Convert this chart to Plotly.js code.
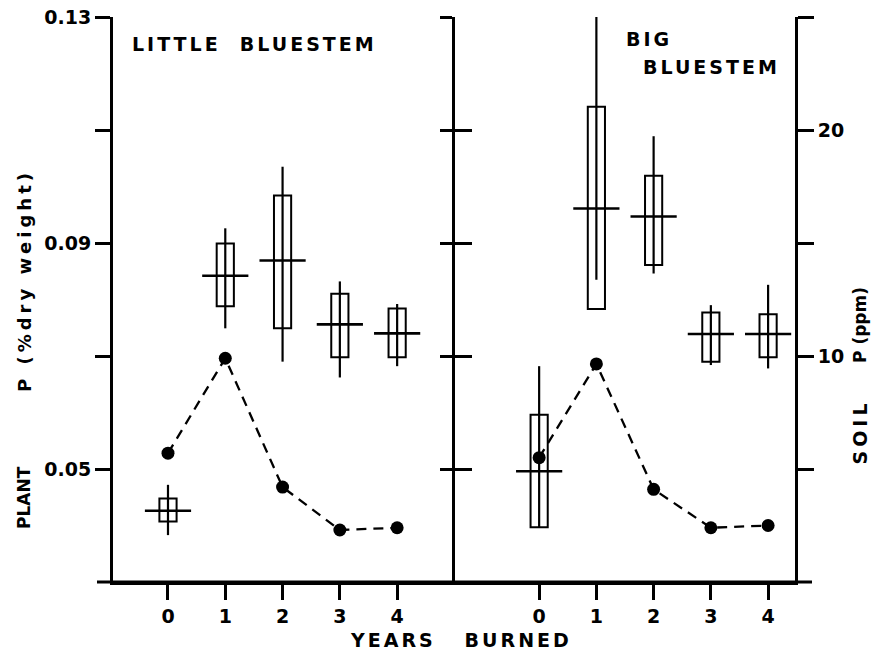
<!DOCTYPE html>
<html>
<head>
<meta charset="utf-8">
<script src="https://cdn.plot.ly/plotly-3.0.1.min.js"></script>
<style>
  html, body { margin: 0; padding: 0; background: #fff; }
  #chart { width: 875px; height: 650px; }
  .annotation[data-index="0"] text { letter-spacing: 3px; }
  .annotation[data-index="1"] text { letter-spacing: 3px; }
  .annotation[data-index="2"] text { letter-spacing: 3px; }
  .annotation[data-index="3"] text { letter-spacing: 3px; }
  .annotation[data-index="4"] text { letter-spacing: 0px; }
  .annotation[data-index="5"] text { letter-spacing: 4px; }
  .annotation[data-index="6"] text { letter-spacing: 4px; }
  .annotation[data-index="7"] text { letter-spacing: 0px; }
</style>
</head>
<body>
<div id="chart"></div>
<script>
// ---- data ----
var years = [0, 1, 2, 3, 4];
var xTickLabels = ['0', '1', '2', '3', '4'];

// Little bluestem: plant P (% dry weight)
var lbMean    = [0.0426, 0.0842, 0.0869, 0.0756, 0.0740];
var lbBoxLow  = [0.0407, 0.0788, 0.0749, 0.0698, 0.0698];
var lbBoxHigh = [0.0448, 0.0899, 0.0984, 0.0810, 0.0784];
var lbMin     = [0.0383, 0.0749, 0.0690, 0.0662, 0.0682];
var lbMax     = [0.0472, 0.0926, 0.1035, 0.0832, 0.0792];
// Little bluestem: soil P (ppm)
var lbSoil    = [5.7, 9.9, 4.2, 2.3, 2.4];

// Big bluestem: plant P (% dry weight)
var bbMean    = [0.0496, 0.0961, 0.0947, 0.0739, 0.0739];
var bbBoxLow  = [0.0397, 0.0783, 0.0861, 0.0690, 0.0698];
var bbBoxHigh = [0.0596, 0.1141, 0.1019, 0.0777, 0.0774];
var bbMin     = [0.0397, 0.0835, 0.0846, 0.0684, 0.0678];
var bbMax     = [0.0682, 0.1301, 0.1089, 0.0790, 0.0826];
// Big bluestem: soil P (ppm)
var bbSoil    = [5.5, 9.65, 4.1, 2.4, 2.5];

var plantTickVals = [0.05, 0.07, 0.09, 0.11, 0.13];
var plantTickText = ['0.05', '', '0.09', '', '0.13'];
var soilTickVals = [5, 10, 15, 20, 25];
var soilTickText = ['', '10', '', '20', ''];

// ---- helpers ----
function diff(a, b) { return a.map(function (v, i) { return v - b[i]; }); }

var FONT = 'DejaVu Sans, Verdana, sans-serif';
var INK = '#000';

function boxTrace(xa, low, high) {
  return {
    type: 'bar', xaxis: xa, yaxis: 'y',
    x: years, y: diff(high, low), base: low, width: 0.3,
    marker: { color: '#fff', line: { color: INK, width: 2 } },
    hoverinfo: 'skip', showlegend: false
  };
}
function meanTrace(xa, mean, mn, mx) {
  return {
    type: 'scatter', mode: 'markers', xaxis: xa, yaxis: 'y',
    x: years, y: mean,
    marker: { symbol: 'line-ew', size: 33, color: INK, line: { color: INK, width: 2.6 } },
    error_y: { type: 'data', symmetric: false, array: diff(mx, mean), arrayminus: diff(mean, mn),
               width: 0, thickness: 2.2, color: INK },
    hoverinfo: 'skip', showlegend: false
  };
}
function soilTrace(xa, ya, soil) {
  return {
    type: 'scatter', mode: 'lines+markers', xaxis: xa, yaxis: ya,
    x: years, y: soil,
    line: { color: INK, width: 2.3, dash: '10px,7px' },
    marker: { symbol: 'circle', size: 13, color: INK },
    hoverinfo: 'skip', showlegend: false
  };
}
// invisible carrier so the inside-tick copy of the middle axis gets drawn
function carrier(xa, ya, soil) {
  return { type: 'scatter', mode: 'none', xaxis: xa, yaxis: ya, x: years, y: soil,
           hoverinfo: 'skip', showlegend: false };
}

var data = [
  boxTrace('x', lbBoxLow, lbBoxHigh),
  meanTrace('x', lbMean, lbMin, lbMax),
  soilTrace('x', 'y4', lbSoil),
  boxTrace('x2', bbBoxLow, bbBoxHigh),
  meanTrace('x2', bbMean, bbMin, bbMax),
  carrier('x2', 'y4', bbSoil),
  carrier('x2', 'y6', bbSoil),
  soilTrace('x2', 'y5', bbSoil)
];

var split = (455 - 113) / 682;
var tickFont = { family: FONT, size: 19, color: INK, weight: 'bold' };

function xAxis(domain, range) {
  return {
    domain: domain, range: range, anchor: 'y',
    tickvals: years, ticktext: xTickLabels,
    ticks: 'outside', ticklen: 15, tickwidth: 3, tickcolor: INK,
    showline: true, linewidth: 3, linecolor: INK,
    showgrid: false, zeroline: false, tickfont: tickFont, fixedrange: true
  };
}
function ann(text, x, y, size, opts) {
  var a = {
    text: text, xref: 'paper', yref: 'paper', x: x, y: y,
    xanchor: 'left', yanchor: 'middle', align: 'left', showarrow: false,
    font: { family: FONT, size: size, color: INK, weight: 'bold' }
  };
  for (var k in (opts || {})) a[k] = opts[k];
  return a;
}
var rot = { textangle: -90, xanchor: 'center', yanchor: 'middle', align: 'center' };

var layout = {
  width: 875, height: 650,
  margin: { l: 113, r: 80, t: 17, b: 68 },
  paper_bgcolor: '#fff', plot_bgcolor: 'rgba(0,0,0,0)',
  barmode: 'overlay', showlegend: false,
  xaxis: xAxis([0, split], [-0.96, 5.01]),
  xaxis2: xAxis([split, 1], [-1.47, 4.47]),
  yaxis: {
    domain: [0, 1], range: [0.03, 0.13], anchor: 'x', side: 'left',
    tickvals: plantTickVals, ticktext: plantTickText,
    ticks: 'outside', ticklen: 15, tickwidth: 3, tickcolor: INK,
    showline: true, linewidth: 3, linecolor: INK,
    showgrid: false, zeroline: false, tickfont: tickFont, fixedrange: true
  },
  yaxis4: {
    overlaying: 'y', anchor: 'x2', side: 'right', range: [0, 25],
    tickvals: soilTickVals, ticktext: soilTickText,
    ticks: 'outside', ticklen: 16, tickwidth: 3, tickcolor: INK,
    showline: true, linewidth: 3, linecolor: INK,
    showgrid: false, zeroline: false, tickfont: tickFont, fixedrange: true
  },
  yaxis5: {
    overlaying: 'y', anchor: 'x2', side: 'left', range: [0, 25],
    tickvals: soilTickVals, showticklabels: false,
    ticks: 'outside', ticklen: 12, tickwidth: 3, tickcolor: INK,
    showline: true, linewidth: 3, linecolor: INK,
    showgrid: false, zeroline: false, fixedrange: true
  },
  yaxis6: {
    overlaying: 'y', anchor: 'x2', side: 'left', range: [0, 25],
    tickvals: soilTickVals, showticklabels: false,
    ticks: 'inside', ticklen: 17, tickwidth: 3, tickcolor: INK,
    showline: false, showgrid: false, zeroline: false, fixedrange: true
  },
  shapes: [
    { type: 'line', xref: 'paper', yref: 'paper', x0: -16 / 682, x1: 1 + 17 / 682, y0: 0, y1: 0,
      line: { color: INK, width: 3 } }
  ],
  annotations: [
    ann('LITTLE\u00A0\u00A0BLUESTEM', 0.0249, 0.9522, 19),
    ann('BIG', 0.7493, 0.9602, 19),
    ann('BLUESTEM', 0.7742, 0.9115, 19),
    ann('YEARS\u00A0\u00A0\u00A0BURNED', 0.3446, -0.1035, 19),
    ann('PLANT', -0.1305, 0.1504, 17, rot),
    ann('P (%dry weight)', -0.1305, 0.5345, 18, rot),
    ann('SOIL', 1.0953, 0.2664, 19, rot),
    ann('P (ppm)', 1.0953, 0.4549, 17, rot)
  ]
};

Plotly.newPlot('chart', data, layout, { displayModeBar: false, staticPlot: true });
</script>
</body>
</html>
